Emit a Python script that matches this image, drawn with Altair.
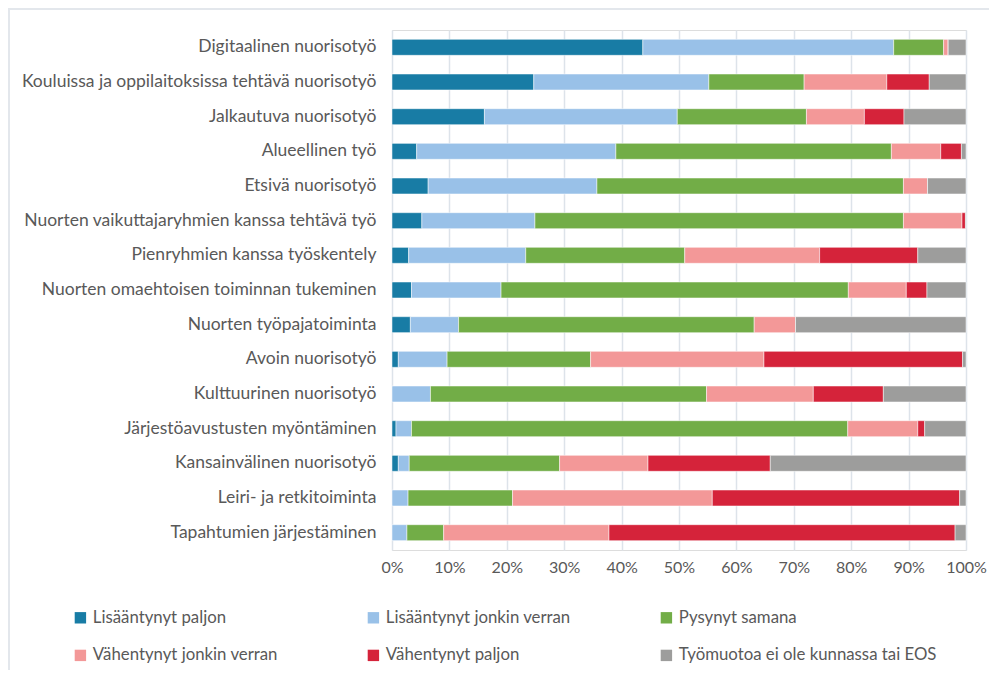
import altair as alt
import pandas as pd

categories = [
    "Digitaalinen nuorisotyö",
    "Kouluissa ja oppilaitoksissa tehtävä nuorisotyö",
    "Jalkautuva nuorisotyö",
    "Alueellinen työ",
    "Etsivä nuorisotyö",
    "Nuorten vaikuttajaryhmien kanssa tehtävä työ",
    "Pienryhmien kanssa työskentely",
    "Nuorten omaehtoisen toiminnan tukeminen",
    "Nuorten työpajatoiminta",
    "Avoin nuorisotyö",
    "Kulttuurinen nuorisotyö",
    "Järjestöavustusten myöntäminen",
    "Kansainvälinen nuorisotyö",
    "Leiri- ja retkitoiminta",
    "Tapahtumien järjestäminen",
]

series = [
    "Lisääntynyt paljon",
    "Lisääntynyt jonkin verran",
    "Pysynyt samana",
    "Vähentynyt jonkin verran",
    "Vähentynyt paljon",
    "Työmuotoa ei ole kunnassa tai EOS",
]

colors = ["#187CA5", "#99C1E8", "#72AD47", "#F39898", "#D5233A", "#9D9D9C"]

lisaantynyt_paljon = [43.7, 24.7, 16.1, 4.3, 6.3, 5.2, 2.9, 3.4, 3.2, 1.1, 0.0, 0.7, 1.1, 0.0, 0.0]
lisaantynyt_jonkin = [43.7, 30.5, 33.6, 34.7, 29.4, 19.7, 20.4, 15.6, 8.4, 8.5, 6.7, 2.7, 1.9, 2.8, 2.6]
pysynyt_samana = [8.7, 16.6, 22.5, 48.0, 53.4, 64.2, 27.7, 60.5, 51.5, 25.0, 48.1, 76.0, 26.2, 18.2, 6.4]
vahentynyt_jonkin = [0.8, 14.4, 10.1, 8.6, 4.2, 10.2, 23.5, 10.1, 7.2, 30.2, 18.6, 12.2, 15.4, 34.8, 28.8]
vahentynyt_paljon = [0.0, 7.4, 6.9, 3.6, 0.0, 0.6, 17.1, 3.6, 0.0, 34.6, 12.2, 1.2, 21.3, 43.1, 60.3]
ei_kunnassa_eos = [3.1, 6.4, 10.8, 0.8, 6.7, 0.1, 8.4, 6.8, 29.7, 0.6, 14.4, 7.2, 34.1, 1.1, 1.9]

values = [lisaantynyt_paljon, lisaantynyt_jonkin, pysynyt_samana,
          vahentynyt_jonkin, vahentynyt_paljon, ei_kunnassa_eos]

rows = []
for si, (s, vals) in enumerate(zip(series, values)):
    for c, v in zip(categories, vals):
        rows.append({"kategoria": c, "vastaus": s, "jarjestys": si, "arvo": v})
df = pd.DataFrame(rows)

FONT = "Lato"
TXT = "#595959"

bars = alt.Chart(df).mark_bar(stroke="white", strokeWidth=0.5).encode(
    y=alt.Y("kategoria:N", sort=categories, title=None,
            scale=alt.Scale(paddingInner=0.54, paddingOuter=0.27),
            axis=alt.Axis(ticks=False, domain=False, labelPadding=16,
                          labelFont=FONT, labelFontSize=17.5, labelColor=TXT,
                          labelLimit=400)),
    x=alt.X("arvo:Q", stack="normalize", title=None,
            scale=alt.Scale(domain=[0, 1], nice=False),
            axis=alt.Axis(format=".0%", values=[i / 10 for i in range(11)],
                          ticks=False, domain=False, grid=True,
                          gridColor="#DDE3EA", gridWidth=1.5,
                          labelFlush=False,
                          labelPadding=9, labelFont=FONT, labelFontSize=16,
                          labelColor=TXT)),
    color=alt.Color("vastaus:N", sort=series,
                    scale=alt.Scale(domain=series, range=colors),
                    legend=alt.Legend(title=None, orient="none",
                                      direction="horizontal",
                                      legendX=-320, legendY=579,
                                      columns=3, gridAlign="all",
                                      columnPadding=14, rowPadding=20,
                                      symbolType="square", symbolSize=130,
                                      symbolStrokeWidth=0, labelOffset=4,
                                      labelFont=FONT, labelFontSize=16.8,
                                      labelColor=TXT, labelLimit=400)),
    order=alt.Order("jarjestys:Q"),
)

frame = alt.Chart(pd.DataFrame({"k": [0]})).mark_rect(
    filled=False, stroke="#E3E7EC", strokeWidth=2
).encode(
    x=alt.value(-383), x2=alt.value(700),
    y=alt.value(-21), y2=alt.value(700),
)

chart = alt.layer(frame, bars).properties(
    width=574, height=520,
    autosize=alt.AutoSizeParams(type="none"),
    padding={"left": 384, "top": 22, "right": 23, "bottom": 120},
).configure_view(stroke=None).configure(background="white")

chart.save("out.html", embed_options={"renderer": "svg", "actions": False})
